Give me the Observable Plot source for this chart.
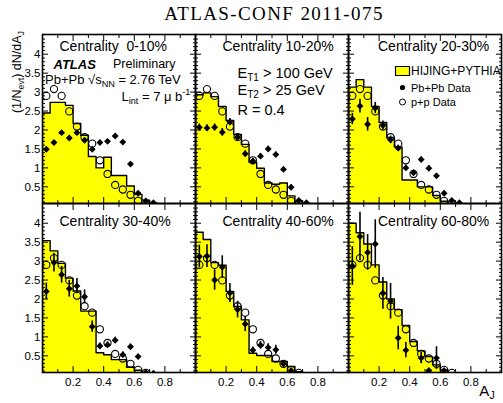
<!DOCTYPE html>
<html><head><meta charset="utf-8">
<script src="https://cdn.jsdelivr.net/npm/d3@7"></script>
<script src="https://cdn.jsdelivr.net/npm/@observablehq/plot@0.6"></script>
<style>
body{margin:0;background:#fff;}
#wrap{position:relative;width:503px;height:403px;overflow:hidden;background:#fff;}
</style></head>
<body><div id="wrap"></div>
<script>
// ---------------- data ----------------
const chartTitle = "ATLAS-CONF 2011-075";
const yLabel = "(1/N_{evt}) dN/dA_{J}";
const xLabel = "A_{J}";
const binWidth = 0.05;
const panelTitles = ["Centrality \u00a00-10%", "Centrality 10-20%", "Centrality 20-30%",
                     "Centrality 30-40%", "Centrality 40-60%", "Centrality 60-80%"];
const xTicks = [0.2, 0.4, 0.6, 0.8];
const xMinor = [0.1, 0.3, 0.5, 0.7, 0.9];
const yTicks = [0.5, 1, 1.5, 2, 2.5, 3, 3.5, 4];

// HIJING+PYTHIA histograms (bins of 0.05 from 0)
const hijing0010 = [2.45, 2.73, 2.73, 2.65, 2.17, 1.86, 1.30, 1.00, 1.28, 0.80, 0.80, 0.52, 0.30, 0.15, 0.07];
const hijing1020 = [2.93, 2.98, 2.88, 2.62, 2.25, 1.88, 1.62, 1.15, 0.99, 0.60, 0.57, 0.60, 0.26, 0.12, 0.05];
const hijing2030 = [3.13, 3.33, 3.13, 2.62, 2.20, 1.80, 1.55, 0.68, 0.68, 0.50, 0.50, 0.27, 0.12, 0.05];
const hijing3040 = [3.54, 3.27, 2.94, 2.55, 2.21, 1.68, 1.68, 0.58, 0.53, 0.40, 0.40, 0.20, 0.12, 0.05];
const hijing4060 = [3.76, 3.57, 2.96, 2.89, 2.20, 1.80, 1.45, 0.57, 0.51, 0.51, 0.35, 0.35, 0.22, 0.08];
const hijing6080 = [4.00, 3.75, 3.45, 2.90, 2.45, 2.00, 1.72, 1.30, 0.88, 0.63, 0.48, 0.26, 0.13, 0.04];

// Pb+Pb data (bin centres) and statistical errors
const pbpb0010 = [1.49, 1.67, 1.93, 1.79, 1.93, 1.73, 1.49, 1.67, 1.70, 1.84, 1.68, 1.10, 0.33, 0.13, 0.08];
const pbpb1020 = [2.07, 2.05, 2.07, 1.94, 2.21, 1.81, 1.37, 1.18, 1.31, 1.50, 1.35, 0.96, 0.49, 0.14, 0.08];
const pbpb2030 = [2.29, 2.63, 2.15, 2.58, 2.12, 1.74, 1.52, 1.00, 0.87, 1.22, 0.99, 0.79, 0.33, 0.14, 0.08];
const pbpb3040 = [2.20, 2.96, 2.64, 2.27, 2.34, 2.06, 1.27, 0.76, 0.79, 0.91, 0.53, 0.74, 0.48, 0.06, 0.04];
const pbpb4060 = [3.12, 3.13, 2.50, 2.84, 2.16, 1.72, 1.34, 0.65, 0.78, 0.72, 0.66, 0.29, 0.11];
const pbpb6080 = [2.87, 3.65, 3.23, 3.45, 2.15, 1.94, 0.97, 0.65, null, 0.44, 0.11, 0.44, 0.11];

const err0010 = [0.05, 0.05, 0.05, 0.05, 0.05, 0.05, 0.05, 0.05, 0.05, 0.05, 0.05, 0.05, 0.04, 0.03, 0.03];
const err1020 = [0.09, 0.09, 0.09, 0.10, 0.09, 0.08, 0.08, 0.07, 0.07, 0.07, 0.07, 0.06, 0.05, 0.04, 0.03];
const err2030 = [0.15, 0.18, 0.18, 0.15, 0.12, 0.10, 0.08, 0.07, 0.07, 0.07, 0.07, 0.06, 0.05, 0.04, 0.03];
const err3040 = [0.22, 0.25, 0.22, 0.22, 0.20, 0.18, 0.15, 0.08, 0.08, 0.08, 0.07, 0.07, 0.06, 0.03, 0.03];
const err4060 = [0.30, 0.30, 0.27, 0.30, 0.25, 0.22, 0.20, 0.08, 0.10, 0.10, 0.12, 0.06, 0.04];
const err6080 = [0.51, 0.64, 0.47, 0.64, 0.42, 0.47, 0.31, 0.20, null, 0.15, 0.06, 0.30, 0.06];

// p+p reference data (same in every panel)
const ppData = [2.90, 3.08, 2.90, 2.49, 2.09, 1.81, 1.64, 1.20, 0.84, 0.55, 0.43, 0.29, 0.13, 0.05];

// annotation texts
const atlasLabel = "ATLAS";
const prelimLabel = "Preliminary";
const energyLabel = "Pb+Pb √s_{NN} = 2.76 TeV";
const lumiLabel = "L_{int} = 7 μ b^{-1}";
const cutLabels = ["E_{T1} > 100 GeV", "E_{T2} > 25 GeV", "R = 0.4"];
const legendLabels = ["HIJING+PYTHIA", "Pb+Pb Data", "p+p Data"];

// ---------------- tables ----------------
const hijing = [hijing0010, hijing1020, hijing2030, hijing3040, hijing4060, hijing6080];
const pbpb = [pbpb0010, pbpb1020, pbpb2030, pbpb3040, pbpb4060, pbpb6080];
const pbErr = [err0010, err1020, err2030, err3040, err4060, err6080];
const panels = panelTitles.map((t, i) => ({col: i % 3, row: Math.floor(i / 3), title: t, hist: hijing[i], pb: pbpb[i], err: pbErr[i]}));

const areaRows = panels.flatMap(p => [
  ...p.hist.map((v, k) => ({col: p.col, row: p.row, x: k * binWidth, v})),
  {col: p.col, row: p.row, x: p.hist.length * binWidth, v: p.hist[p.hist.length - 1]}
]);
const stepRows = panels.flatMap(p => [
  {col: p.col, row: p.row, x: 0, v: 0},
  ...p.hist.map((v, k) => ({col: p.col, row: p.row, x: k * binWidth, v})),
  {col: p.col, row: p.row, x: p.hist.length * binWidth, v: 0}
]);
const ppRows = panels.flatMap(p => ppData.map((v, k) => ({col: p.col, row: p.row, x: (k + 0.5) * binWidth, v})));
const pbRows = panels.flatMap(p => p.pb.map((v, k) => ({col: p.col, row: p.row, x: (k + 0.5) * binWidth, v, e: p.err[k]}))).filter(d => d.v != null);
const yMinor = d3.range(1, 45).map(i => i / 10).filter(v => Math.abs(v * 2 - Math.round(v * 2)) > 1e-9);

// ---------------- layout / style ----------------
const F = {fx: "col", fy: "row"};
const titleDx = [17, 27, 29.5];
const titleDy = [7, 12.5];
const P1 = [{col: 0, row: 0}], P2 = [{col: 1, row: 0}], P3 = [{col: 2, row: 0}];
const TL = {frameAnchor: "top-left", textAnchor: "start", lineAnchor: "top"};
const boxSymbol = {draw(ctx) { ctx.rect(-7, -4.5, 14, 9); }};
const tickOpts = {fill: "none", label: null, facetAnchor: null, strokeWidth: 1};

const svg = Plot.plot({
  width: 503, height: 403,
  marginLeft: 41, marginRight: 2, marginTop: 33, marginBottom: 31,
  style: {fontFamily: "'Liberation Sans', Arial, sans-serif", fontSize: "12px", background: "white", color: "black"},
  x: {domain: [0, 1]},
  y: {domain: [0.06, 4.52]},
  fx: {domain: [0, 1, 2], axis: null, padding: 0},
  fy: {domain: [0, 1], axis: null, padding: 0},
  marks: [
    Plot.areaY(areaRows, {...F, x: "x", y1: () => 0, y2: "v", curve: "step-after", fill: "#ffff00", clip: true}),
    Plot.line(stepRows, {...F, x: "x", y: "v", curve: "step-after", stroke: "black", strokeWidth: 1.4, clip: true}),
    Plot.dot(ppRows, {...F, x: "x", y: "v", r: 3.6, stroke: "black", strokeWidth: 1.1, fill: "none", clip: true}),
    Plot.ruleX(pbRows, {...F, x: "x", y1: d => d.v - d.e, y2: d => d.v + d.e, stroke: "black", strokeWidth: 1.6, clip: true}),
    Plot.dot(pbRows, {...F, x: "x", y: "v", r: 3.1, symbol: "diamond2", fill: "black", clip: true}),
    Plot.frame({stroke: "black", strokeWidth: 1.6}),
    // axes
    Plot.axisY({ticks: yTicks, anchor: "left", tickSize: 0, tickPadding: 2, fontSize: 11.5, tickFormat: d => String(d), label: null}),
    Plot.axisY({ticks: yTicks, anchor: "left", tickSize: -6, ...tickOpts}),
    Plot.axisY({ticks: yTicks, anchor: "right", tickSize: -6, ...tickOpts}),
    Plot.axisY({ticks: yMinor, anchor: "left", tickSize: -3, ...tickOpts}),
    Plot.axisY({ticks: yMinor, anchor: "right", tickSize: -3, ...tickOpts}),
    Plot.axisX({ticks: xTicks, anchor: "bottom", tickSize: 0, tickPadding: 5, fontSize: 11.5, tickFormat: d => String(d), label: null}),
    Plot.axisX({ticks: xTicks, anchor: "bottom", tickSize: -6, ...tickOpts}),
    Plot.axisX({ticks: xTicks, anchor: "top", tickSize: -6, ...tickOpts}),
    Plot.axisX({ticks: xMinor, anchor: "bottom", tickSize: -3, ...tickOpts}),
    Plot.axisX({ticks: xMinor, anchor: "top", tickSize: -3, ...tickOpts}),
    // panel titles
    ...panels.map(p => Plot.text([p], {...F, ...TL, text: "title", dx: titleDx[p.col], dy: titleDy[p.row], fontSize: 14, fill: "black"})),
    // panel 1 annotations
    Plot.text(P1, {...F, ...TL, text: () => atlasLabel, dx: 11, dy: 25, fontSize: 13, fontWeight: "bold", fontStyle: "italic"}),
    Plot.text(P1, {...F, ...TL, text: () => prelimLabel, dx: 70.5, dy: 25, fontSize: 12.5}),
    Plot.text(P1, {...F, ...TL, text: () => energyLabel, dx: 2.5, dy: 40, fontSize: 13}),
    Plot.text(P1, {...F, ...TL, text: () => lumiLabel, dx: 79, dy: 57, fontSize: 13}),
    // panel 2 annotations
    Plot.text(P2, {...F, ...TL, text: () => cutLabels[0], dx: 42, dy: 33.5, fontSize: 14.5}),
    Plot.text(P2, {...F, ...TL, text: () => cutLabels[1], dx: 42, dy: 50.5, fontSize: 14.5}),
    Plot.text(P2, {...F, ...TL, text: () => cutLabels[2], dx: 42, dy: 70, fontSize: 14.5}),
    // legend (panel 3)
    Plot.dot(P3, {...F, frameAnchor: "top-left", dx: 54, dy: 36.5, symbol: boxSymbol, fill: "#ffff00", stroke: "black", strokeWidth: 1.2}),
    Plot.dot(P3, {...F, frameAnchor: "top-left", dx: 54, dy: 53, r: 2.6, fill: "black"}),
    Plot.dot(P3, {...F, frameAnchor: "top-left", dx: 54, dy: 67.5, r: 3, fill: "none", stroke: "black", strokeWidth: 1}),
    Plot.text(P3, {...F, ...TL, text: () => legendLabels[0], dx: 62.5, dy: 32, fontSize: 12, letterSpacing: "-0.2px"}),
    Plot.text(P3, {...F, ...TL, text: () => legendLabels[1], dx: 62.5, dy: 49.5, fontSize: 11, letterSpacing: "-0.3px"}),
    Plot.text(P3, {...F, ...TL, text: () => legendLabels[2], dx: 62.5, dy: 64, fontSize: 11, letterSpacing: "-0.3px"})
  ]
});
document.getElementById("wrap").appendChild(svg);

const sel = d3.select(svg);
sel.append("text").attr("x", 274).attr("y", 20).attr("text-anchor", "middle")
  .attr("font-family", "'Liberation Serif', 'DejaVu Serif', serif").attr("font-size", 19)
  .attr("letter-spacing", "1.4px").attr("fill", "black").text(chartTitle);
sel.append("text").attr("transform", "translate(21,31) rotate(-90)").attr("text-anchor", "end")
  .attr("font-size", 12.5).attr("fill", "black").text(yLabel);
sel.append("text").attr("x", 487).attr("y", 396).attr("font-size", 15).attr("fill", "black").text(xLabel);

function richify(t) {
  const s = t.textContent;
  if (!/[_^]\{/.test(s) || t.querySelector("tspan")) return;
  const fs = parseFloat(getComputedStyle(t).fontSize);
  const parts = s.split(/([_^]\{[^}]*\})/).filter(p => p !== "");
  while (t.firstChild) t.removeChild(t.firstChild);
  let shift = 0;
  for (const p of parts) {
    const ts = document.createElementNS("http://www.w3.org/2000/svg", "tspan");
    let target = 0, txt = p, small = false;
    if (p.startsWith("_{")) { target = 0.22 * fs; txt = p.slice(2, -1); small = true; }
    else if (p.startsWith("^{")) { target = -0.42 * fs; txt = p.slice(2, -1); small = true; }
    const dy = target - shift; shift = target;
    if (dy) ts.setAttribute("dy", dy);
    if (small) ts.setAttribute("font-size", (fs * 0.7).toFixed(2));
    ts.textContent = txt;
    t.appendChild(ts);
  }
}
svg.querySelectorAll("text").forEach(richify);
</script>
</body></html>
